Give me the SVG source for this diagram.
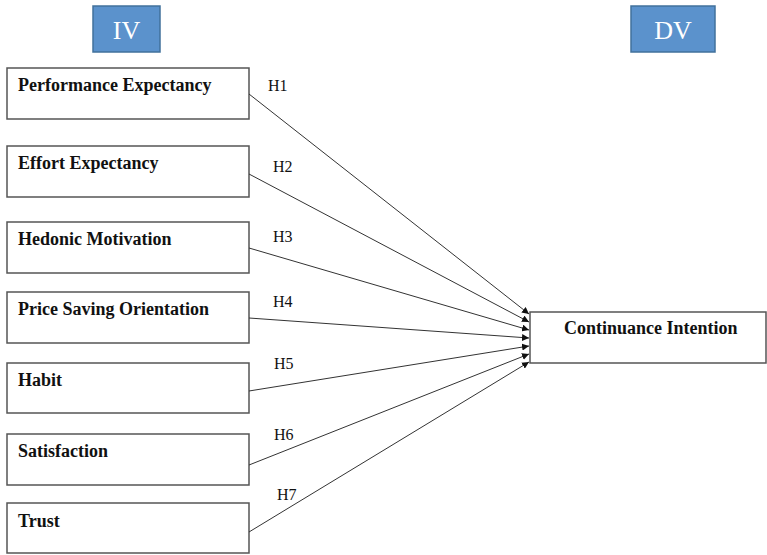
<svg xmlns="http://www.w3.org/2000/svg" width="767" height="555" viewBox="0 0 767 555">
<style>
.hdr{fill:#5b92cc;stroke:#41719c;stroke-width:1.5}
.hdrt{font-family:"Liberation Serif",serif;font-size:26px;fill:#fff;text-anchor:middle}
.box{fill:#fff;stroke:#555;stroke-width:1.5}
.bt{font-family:"Liberation Serif",serif;font-size:18px;font-weight:bold;fill:#111}
.hl{font-family:"Liberation Serif",serif;font-size:16px;fill:#111}
.cn{stroke:#333;stroke-width:1;fill:none;marker-end:url(#ah)}
</style>
<defs>
<marker id="ah" viewBox="0 0 10 10" refX="10" refY="5" markerWidth="7" markerHeight="7" markerUnits="userSpaceOnUse" orient="auto">
<path d="M0,0 L10,5 L0,10 z" fill="#111"/>
</marker>
</defs>
<g id="iv"><rect class="hdr" x="93" y="6" width="67" height="46"/><text class="hdrt" x="126.5" y="39">IV</text></g>
<g id="dv"><rect class="hdr" x="631" y="6" width="84" height="46"/><text class="hdrt" x="673" y="39">DV</text></g>
<g id="pe"><rect class="box" x="7" y="68" width="242" height="51"/><text class="bt" x="18" y="91">Performance Expectancy</text></g>
<g id="ee"><rect class="box" x="7" y="146" width="242" height="51"/><text class="bt" x="18" y="169">Effort Expectancy</text></g>
<g id="hm"><rect class="box" x="7" y="222" width="242" height="51"/><text class="bt" x="18" y="245">Hedonic Motivation</text></g>
<g id="pso"><rect class="box" x="7" y="292" width="242" height="51"/><text class="bt" x="18" y="315">Price Saving Orientation</text></g>
<g id="hb"><rect class="box" x="7" y="363" width="242" height="50"/><text class="bt" x="18" y="386">Habit</text></g>
<g id="sat"><rect class="box" x="7" y="434" width="242" height="51"/><text class="bt" x="18" y="457">Satisfaction</text></g>
<g id="tr"><rect class="box" x="7" y="503" width="242" height="50"/><text class="bt" x="18" y="527">Trust</text></g>
<g id="ci"><rect class="box" x="530" y="312" width="236" height="51"/><text class="bt" x="564" y="334">Continuance Intention</text></g>
<g id="connectors">
<line class="cn" x1="249" y1="94" x2="529" y2="314"/>
<line class="cn" x1="249" y1="174" x2="529" y2="322"/>
<line class="cn" x1="249" y1="248" x2="529" y2="330"/>
<line class="cn" x1="249" y1="318" x2="529" y2="338"/>
<line class="cn" x1="249" y1="391" x2="529" y2="346"/>
<line class="cn" x1="249" y1="465" x2="529" y2="354"/>
<line class="cn" x1="249" y1="532" x2="529" y2="362"/>
<text class="hl" x="268" y="91">H1</text>
<text class="hl" x="273" y="172">H2</text>
<text class="hl" x="273" y="242">H3</text>
<text class="hl" x="273" y="307">H4</text>
<text class="hl" x="274" y="369">H5</text>
<text class="hl" x="274" y="440">H6</text>
<text class="hl" x="277" y="500">H7</text>
</g>
</svg>
